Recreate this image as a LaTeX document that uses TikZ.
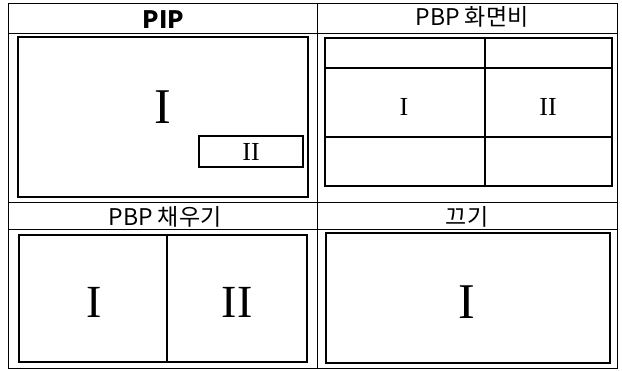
\documentclass[tikz,border=0pt]{standalone}
\usepackage{fontspec}
\newfontfamily\krfont{Noto Sans CJK KR}
\newfontfamily\romfont{Liberation Serif}
\begin{document}
\begin{tikzpicture}[x=1pt, y=-1pt, line join=miter,
	grid/.style={line width=1pt},
	frame/.style={line width=1.6pt},
	head/.style={font=\krfont\fontsize{23}{25}\selectfont, inner sep=0pt, anchor=base},
	big/.style={font=\romfont\fontsize{50}{50}\selectfont, inner sep=0pt},
	mid/.style={font=\romfont\fontsize{46}{46}\selectfont, inner sep=0pt},
	small/.style={font=\romfont\fontsize{26}{26}\selectfont, inner sep=0pt}]
	\def\xl{8}
	\def\xm{317}
	\def\xr{617}
	\useasboundingbox (0,0) rectangle (622,370);
	% table
	\draw[grid] (\xl,3) rectangle (\xr,368);
	\draw[grid] (\xm,3) -- (\xm,368);
	\draw[grid] (\xl,33) -- (\xr,33) (\xl,202) -- (\xr,202) (\xl,229) -- (\xr,229);
	% headers
	\node[head, font=\krfont\bfseries\fontsize{24}{26}\selectfont] (pip) at (163.5,28) {PIP};
	\node[head] (ratio) at (472,25.5) {PBP 화면비};
	\node[head] (fill) at (165,225.5) {PBP 채우기};
	\node[head] (off) at (467,225.5) {끄기};
	% PIP
	\draw[frame] (18,37) rectangle (308,197);
	\node[big] (pipmain) at (163,107) {I};
	\draw[frame] (199,136) rectangle (303,167);
	\node[small] (pipsub) at (251,152) {II};
	% PBP ratio
	\draw[frame] (325,38) rectangle (612,186);
	\draw[line width=1.2pt] (325,68) -- (612,68) (325,137) -- (612,137) (485,38) -- (485,186);
	\node[small] (ratioa) at (404,107) {I};
	\node[small] (ratiob) at (548,107) {II};
	% PBP fill
	\draw[frame] (19,235) rectangle (307,362);
	\draw[line width=1.2pt] (167,235) -- (167,362);
	\node[mid] (filla) at (94,302) {I};
	\node[mid] (fillb) at (237,302) {II};
	% off
	\draw[frame] (326,233) rectangle (610,363);
	\node[big] (offmain) at (467,302) {I};
\end{tikzpicture}
\end{document}
